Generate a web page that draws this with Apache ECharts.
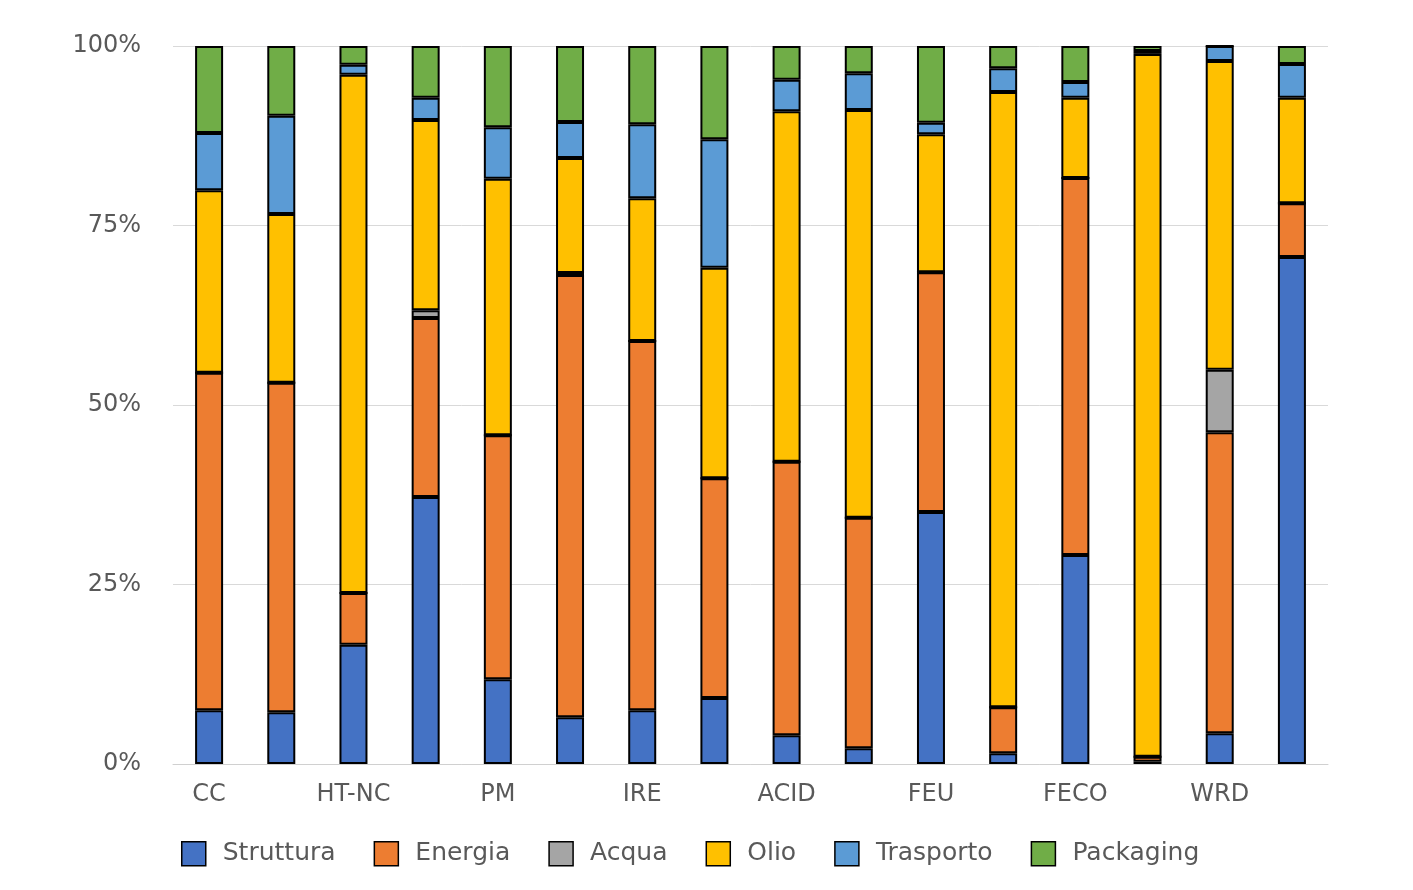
<!DOCTYPE html>
<html>
<head>
<meta charset="utf-8">
<script src="https://cdn.jsdelivr.net/npm/echarts@6/dist/echarts.min.js"></script>
<style>
  html, body { margin: 0; padding: 0; background: #ffffff; }
  #chart { width: 1413px; height: 890px; }
</style>
</head>
<body>
<div id="chart"></div>
<script>
const categories = ['CC', 'ODP', 'HT-NC', 'HT-C', 'PM', 'IR', 'IRE', 'POF', 'ACID', 'TEU', 'FEU', 'MEU', 'FECO', 'LU', 'WRD', 'RD'];
const struttura = [7.5, 7.2, 16.6, 37.2, 11.8, 6.5, 7.5, 9.2, 4.0, 2.2, 35.1, 1.5, 29.1, 0.3, 4.3, 70.6];
const energia   = [47.0, 45.9, 7.2, 24.9, 34.0, 61.6, 51.4, 30.6, 38.1, 32.1, 33.4, 6.4, 52.5, 0.7, 41.9, 7.5];
const acqua     = [0, 0, 0, 1.1, 0, 0.3, 0, 0, 0, 0, 0, 0, 0, 0, 8.7, 0];
const olio      = [25.4, 23.5, 72.2, 26.5, 35.7, 16.0, 19.9, 29.3, 48.8, 56.8, 19.2, 85.7, 11.2, 97.9, 43.0, 14.7];
const trasporto = [8.0, 13.7, 1.4, 3.1, 7.2, 5.0, 10.3, 17.9, 4.4, 5.1, 1.6, 3.3, 2.2, 0.4, 2.1, 4.7];
const packaging = [12.1, 9.7, 2.6, 7.2, 11.3, 10.6, 10.9, 13.0, 4.7, 3.8, 10.7, 3.1, 5.0, 0.7, 0, 2.5];
const yTicks = [0, 25, 50, 75, 100];

const seriesDefs = [
  { name: 'Struttura', data: struttura, color: '#4472C4' },
  { name: 'Energia', data: energia, color: '#ED7D31' },
  { name: 'Acqua', data: acqua, color: '#A5A5A5' },
  { name: 'Olio', data: olio, color: '#FFC000' },
  { name: 'Trasporto', data: trasporto, color: '#5B9BD5' },
  { name: 'Packaging', data: packaging, color: '#70AD47' }
];

const chart = echarts.init(document.getElementById('chart'));
chart.setOption({
  backgroundColor: '#ffffff',
  animation: false,
  grid: { left: 173, right: 85, top: 46, bottom: 126 },
  legend: {
    left: 181,
    top: 841,
    padding: 0,
    itemWidth: 24,
    itemHeight: 24,
    itemGap: 38,
    icon: 'rect',
    itemStyle: { borderColor: '#000', borderWidth: 1.5 },
    textStyle: { fontFamily: 'DejaVu Sans', fontSize: 25, color: '#595959', padding: [0, 0, 0, 12] },
    data: seriesDefs.map(s => s.name)
  },
  xAxis: {
    type: 'category',
    data: categories,
    axisTick: { show: false },
    axisLine: { show: true, lineStyle: { color: '#d0d0d0', width: 1 } },
    axisLabel: { interval: 1, margin: 19, fontFamily: 'DejaVu Sans', fontSize: 24, color: '#595959' }
  },
  yAxis: {
    type: 'value',
    min: yTicks[0],
    max: yTicks[yTicks.length - 1],
    interval: 25,
    axisLine: { show: false },
    axisTick: { show: false },
    splitLine: { lineStyle: { color: '#d9d9d9', width: 1 } },
    axisLabel: { margin: 32, fontFamily: 'DejaVu Sans', fontSize: 24, color: '#595959', formatter: '{value}%' }
  },
  series: seriesDefs.map(s => ({
    name: s.name,
    type: 'bar',
    stack: 'total',
    barWidth: 28,
    data: s.data,
    itemStyle: { color: s.color, borderColor: '#000', borderWidth: 2 }
  }))
});
</script>
</body>
</html>
